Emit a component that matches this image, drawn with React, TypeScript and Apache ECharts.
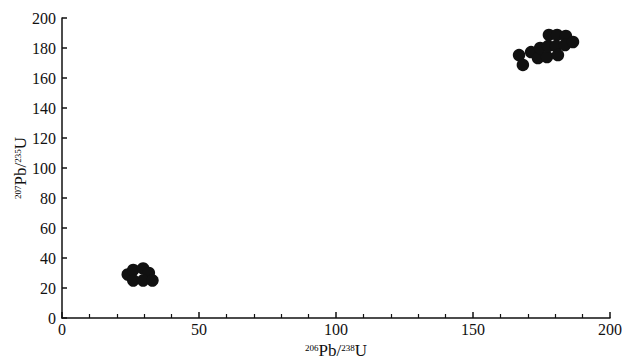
import React, { useEffect, useRef } from "react";
import * as echarts from "echarts";

const xTicks = [0, 50, 100, 150, 200];
const yTicks = [0, 20, 40, 60, 80, 100, 120, 140, 160, 180, 200];

const lowerX = [24, 26, 29.6, 31.7, 26, 29.6, 33];
const lowerY = [29, 32, 33, 30, 25, 25, 25];

const upperX = [166.8, 168.2, 171.2, 173.7, 174.5, 177, 177.7, 177.4, 180.7, 180.3, 181, 183.9, 183.6, 186.5];
const upperY = [175.3, 168.7, 177.3, 173.3, 180, 174, 188.7, 181.3, 188.7, 181.3, 175.3, 188, 182, 184];

export default function App() {
  const ref = useRef<HTMLDivElement>(null);
  useEffect(() => {
    if (!ref.current) return;
    const chart = echarts.init(ref.current, null, { renderer: "svg" });
    const data = [
      ...lowerX.map((x, i) => [x, lowerY[i]]),
      ...upperX.map((x, i) => [x, upperY[i]]),
    ];
    const font = "'Liberation Serif', 'Times New Roman', serif";
    const sup = { fontSize: 9, fontFamily: font, color: "#000", verticalAlign: "top", lineHeight: 14 };
    const main = { fontSize: 17, fontFamily: font, color: "#111", lineHeight: 14 };
    chart.setOption({
      animation: false,
      backgroundColor: "#fff",
      grid: { left: 62, right: 12, top: 18, bottom: 41, outerBoundsMode: "none", containLabel: false },
      xAxis: {
        type: "value",
        min: xTicks[0],
        max: xTicks[xTicks.length - 1],
        interval: 50,
        name: "{s|206}{m|Pb/}{s|238}{m|U}",
        nameLocation: "middle",
        nameGap: 25,
        nameMoveOverlap: false,
        nameTextStyle: { rich: { s: sup, m: main } },
        axisLine: { lineStyle: { color: "#111", width: 1.5 } },
        axisTick: { inside: true, length: 6, lineStyle: { color: "#111", width: 1.5 } },
        minorTick: { show: true, splitNumber: 5, length: 4, lineStyle: { color: "#111", width: 1.2 } },
        axisLabel: { color: "#111", fontSize: 16, fontFamily: font, margin: 3 },
        splitLine: { show: false },
      },
      yAxis: {
        type: "value",
        min: yTicks[0],
        max: yTicks[yTicks.length - 1],
        interval: 20,
        name: "{s|207}{m|Pb/}{s|235}{m|U}",
        nameLocation: "middle",
        nameGap: 35,
        nameMoveOverlap: false,
        nameRotate: 90,
        nameTextStyle: { rich: { s: sup, m: main } },
        axisLine: { lineStyle: { color: "#111", width: 1.5 } },
        axisTick: { inside: true, length: 5, lineStyle: { color: "#111", width: 1.5 } },
        axisLabel: { color: "#111", fontSize: 16, fontFamily: font, margin: 6 },
        splitLine: { show: false },
      },
      series: [
        {
          type: "scatter",
          data,
          symbol: "circle",
          symbolSize: 12.5,
          itemStyle: { color: "#111", opacity: 1 },
        },
      ],
    });
    return () => chart.dispose();
  }, []);
  return <div ref={ref} style={{ width: 622, height: 359, position: "absolute", left: 0, top: 0 }} />;
}
